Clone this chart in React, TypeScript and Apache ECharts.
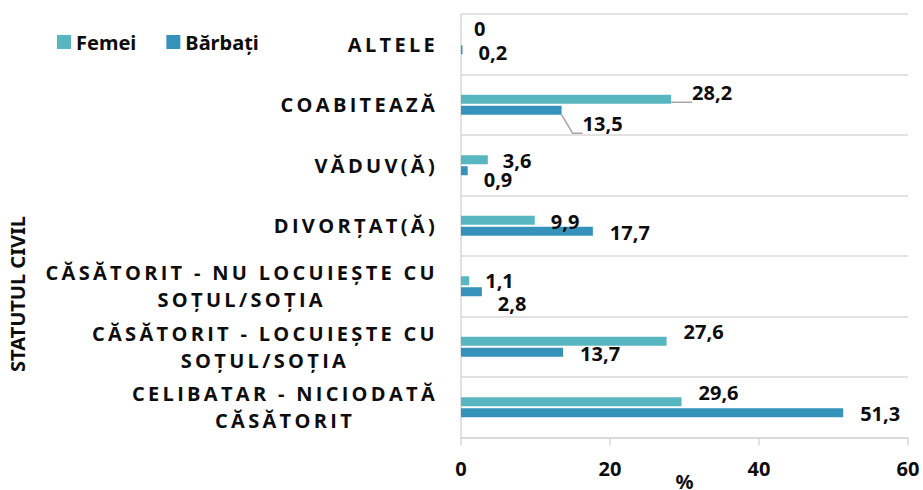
import React, { useEffect, useRef } from 'react';
import * as echarts from 'echarts';

// Categories, bottom to top
const categories = [
  'CELIBATAR - NICIODATĂ\nCĂSĂTORIT',
  'CĂSĂTORIT - LOCUIEȘTE CU\nSOȚUL/SOȚIA',
  'CĂSĂTORIT - NU LOCUIEȘTE CU\nSOȚUL/SOȚIA',
  'DIVORȚAT(Ă)',
  'VĂDUV(Ă)',
  'COABITEAZĂ',
  'ALTELE',
];
const seriesNames = ['Femei', 'Bărbați'];
const femei = [29.6, 27.6, 1.1, 9.9, 3.6, 28.2, 0];
const barbati = [51.3, 13.7, 2.8, 17.7, 0.9, 13.5, 0.2];
const xMin = 0;
const xMax = 60;
const xInterval = 20;
const yAxisTitle = 'STATUTUL CIVIL';
const xAxisTitle = '%';

// label nudges (Excel-style moved labels)
const femeiLabelOffsets = [[12, -9], [12, -10], [11, 0], [11, 1], [10, 1], [16, -7], [8, -10]];
const barbatiLabelOffsets = [[12, 1], [12, 1], [11, 12], [12, 1], [11, 9], [16, 13], [11, 3]];
const leaderLineIndex = 5;

const COLORS = ['#58B6C0', '#3592BB'];
const TXT = '#0d0d0d';
const GRID = '#d9d9d9';

export default function App() {
  const ref = useRef<HTMLDivElement>(null);
  useEffect(() => {
    const el = ref.current!;
    const chart = echarts.init(el, null, { renderer: 'svg' });
    const spacing = 3.3;
    const ctx = document.createElement('canvas').getContext('2d')!;
    ctx.font = 'bold 20px "Open Sans"';
    const rich: Record<string, any> = {};
    const keyed: string[] = categories.map((c, i) =>
      c
        .split('\n')
        .map((line, j) => {
          const key = `c${i}l${j}`;
          const w = ctx.measureText(line).width + Array.from(line).length * spacing;
          rich[key] = {
            width: w,
            align: 'center',
            fontFamily: 'Open Sans',
            fontWeight: 'bold',
            fontSize: 20,
            lineHeight: 27,
            color: TXT,
          };
          return `{${key}|${line}}`;
        })
        .join('\n')
    );

    const mkData = (vals: number[], offs: number[][]) =>
      vals.map((v, i) => ({
        value: v,
        label: { offset: offs[i] },
        labelLine:
          i === leaderLineIndex
            ? { show: true, length2: 10, lineStyle: { color: '#a6a6a6', width: 1.5 } }
            : { show: false },
      }));

    const valueLabel = {
      show: true,
      position: 'right',
      distance: 5,
      color: TXT,
      fontFamily: 'Noto Sans',
      fontWeight: 'bold',
      fontSize: 20,
      formatter: (p: any) => String(p.value).replace('.', ','),
    };

    chart.setOption({
      animation: false,
      textStyle: { fontFamily: 'Noto Sans' },
      legend: {
        data: seriesNames,
        left: 57,
        top: 32,
        padding: 0,
        itemWidth: 14,
        itemHeight: 14,
        itemGap: 30,
        icon: 'rect',
        textStyle: { color: TXT, fontWeight: 'bold', fontSize: 20, fontFamily: 'Noto Sans' },
      },
      grid: {
        left: 461,
        right: 15,
        top: 14,
        bottom: 52.5,
        containLabel: false,
        outerBoundsMode: 'none',
      },
      xAxis: {
        type: 'value',
        min: xMin,
        max: xMax,
        interval: xInterval,
        name: xAxisTitle,
        nameLocation: 'middle',
        nameGap: 34,
        nameMoveOverlap: false,
        nameTextStyle: { color: TXT, fontWeight: 'bold', fontSize: 20, fontFamily: 'Noto Sans' },
        axisLine: { show: true, lineStyle: { color: GRID, width: 1.5 } },
        axisTick: { show: true, length: 8, lineStyle: { color: GRID, width: 1.5 } },
        splitLine: { show: false },
        axisLabel: { color: TXT, fontWeight: 'bold', fontSize: 20, fontFamily: 'Noto Sans', margin: 21 },
      },
      yAxis: {
        type: 'category',
        data: categories,
        axisLine: { show: true, lineStyle: { color: GRID, width: 1.5 } },
        axisTick: { show: false },
        splitLine: { show: true, interval: 0, lineStyle: { color: GRID, width: 1.5 } },
        axisLabel: {
          interval: 0,
          margin: 23,
          formatter: (v: string) => keyed[categories.indexOf(v)],
          rich,
        },
      },
      graphic: [
        {
          type: 'text',
          x: 17.5,
          y: 294,
          rotation: Math.PI / 2,
          style: {
            text: yAxisTitle,
            align: 'center',
            verticalAlign: 'middle',
            fill: TXT,
            font: 'bold 20px "Noto Sans"',
          },
        },
      ],
      series: [
        {
          name: seriesNames[0],
          type: 'bar',
          data: mkData(femei, femeiLabelOffsets),
          barWidth: 9,
          barGap: '22%',
          itemStyle: { color: COLORS[0] },
          label: valueLabel,
        },
        {
          name: seriesNames[1],
          type: 'bar',
          data: mkData(barbati, barbatiLabelOffsets),
          barWidth: 9,
          barGap: '22%',
          itemStyle: { color: COLORS[1] },
          label: valueLabel,
        },
      ],
    });
    return () => chart.dispose();
  }, []);
  return (
    <>
      <style>{`#chart-root text[style*="Open Sans"]{letter-spacing:3.3px}`}</style>
      <div
        id="chart-root"
        ref={ref}
        style={{ position: 'fixed', left: 0, top: 0, width: 923, height: 490, background: '#fff' }}
      />
    </>
  );
}
